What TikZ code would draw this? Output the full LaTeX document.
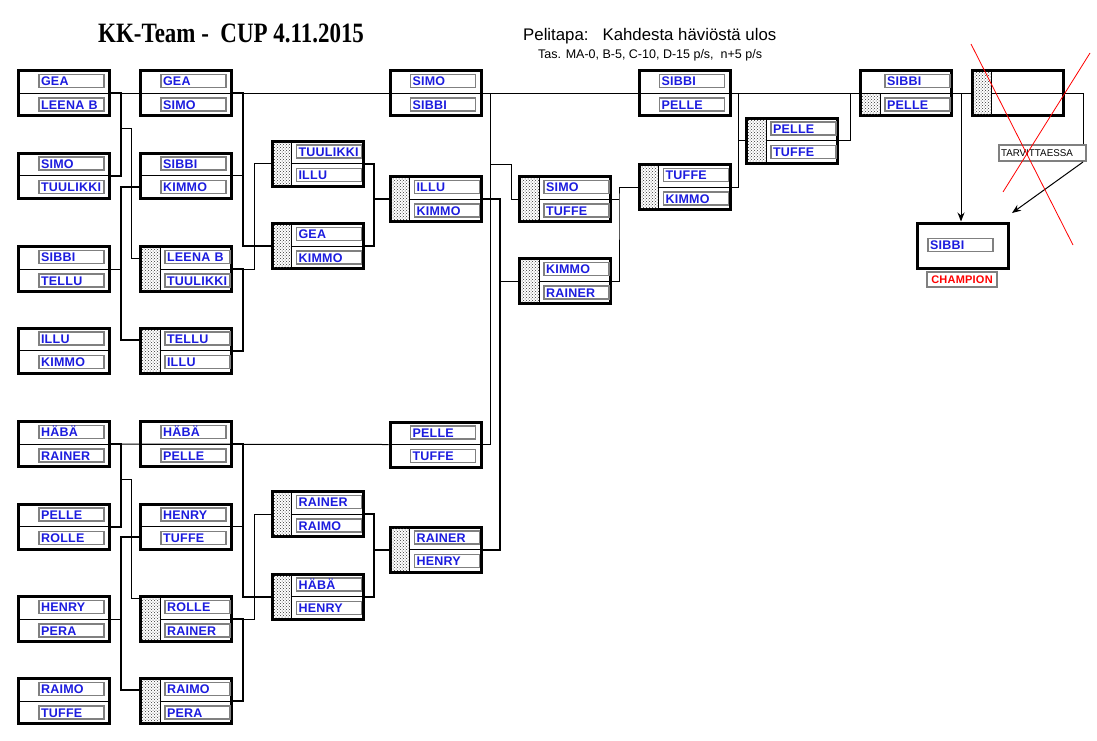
\documentclass[tikz,border=0pt]{standalone}
\usepackage{fontspec}
\setmainfont{Liberation Sans}
\newfontfamily\titlefont{Liberation Serif}
\newfontfamily\namefont{Liberation Sans}[LetterSpace=2]
\usetikzlibrary{calc,patterns,arrows.meta}
\definecolor{nameblue}{RGB}{28,28,222}
\definecolor{framegray}{RGB}{128,128,128}
\begin{document}
\begin{tikzpicture}[x=1pt,y=-1pt,>={Stealth[length=9pt,width=7pt]},line join=miter,
	match/.style={draw,line width=3pt,fill=white,minimum width=91pt,minimum height=45pt,inner sep=0pt},
	player/.style={draw=framegray,line width=1.4pt,fill=white,text width=61pt,inner xsep=2pt,inner ysep=0pt,
		minimum height=13pt,text height=9pt,text depth=0pt,align=left,text=nameblue,
		font=\namefont\bfseries\fontsize{12.5}{13}\selectfont},
	shade/.style={pattern=crosshatch dots,pattern color=black!80},
	wire/.style={line width=1pt},
	wireb/.style={line width=2pt}]
	\useasboundingbox (0,0) rectangle (1097,740);
	% otsikot
	\node[anchor=base west,inner sep=0pt,font=\titlefont\bfseries\fontsize{28}{28}\selectfont] (title) at (98,42)
	{\scalebox{0.82}[1]{KK-Team -\ \ CUP 4.11.2015}};
	\node[anchor=base west,inner sep=0pt,font=\fontsize{16.8}{17}\selectfont] (rules) at (523,40) {Pelitapa:\ \ \ Kahdesta häviöstä ulos};
	\node[anchor=base west,inner sep=0pt,font=\fontsize{12.5}{13}\selectfont] (rules2) at (538,58) {Tas. MA-0, B-5, C-10, D-15 p/s,\ \ n+5 p/s};
	% ottelut, voittajat
	\foreach \n/\x/\y/\a/\b in {A1/64/93/GEA/LEENA B, A2/64/175.5/SIMO/TUULIKKI, A3/64/269/SIBBI/TELLU,
		A4/64/350.5/ILLU/KIMMO, A5/64/444/HÄBÄ/RAINER, A6/64/526.5/PELLE/ROLLE, A7/64/619/HENRY/PERA,
		A8/64/701/RAIMO/TUFFE, B1/186/93/GEA/SIMO, B2/186/175.5/SIBBI/KIMMO, B5/186/444/HÄBÄ/PELLE,
		B6/186/526.5/HENRY/TUFFE, D1/435.5/93/SIMO/SIBBI, D3/435.5/444.5/PELLE/TUFFE, F1/684.5/93/SIBBI/PELLE}
	{
		\node[match] (\n) at (\x,\y) {};
		\draw[wire] (\n.west) -- (\n.east);
		\node[player] (\n-1) at (\x+7.5,\y-12) {\a};
		\node[player] (\n-2) at (\x+7.5,\y+11.5) {\b};
	}
	% ottelut, haviajat
	\foreach \n/\x/\y/\a/\b in {B3/186/269/LEENA B/TUULIKKI, B4/186/350.5/TELLU/ILLU, B7/186/619/ROLLE/RAINER,
		B8/186/701/RAIMO/PERA, C1/317.5/163.5/TUULIKKI/ILLU, C2/317.5/246/GEA/KIMMO, C3/317.5/514/RAINER/RAIMO,
		C4/317.5/596.5/HÄBÄ/HENRY, D2/435.5/199/ILLU/KIMMO, D4/435.5/549.5/RAINER/HENRY, E2/565/199/SIMO/TUFFE,
		E3/565/281/KIMMO/RAINER, F2/684.5/187/TUFFE/KIMMO, G2/792/140.5/PELLE/TUFFE}
	{
		\node[match] (\n) at (\x,\y) {};
		\fill[shade] (\x-44,\y-21) rectangle (\x-26,\y+21);
		\draw[wire] (\x-26,\y-21) -- (\x-26,\y+21);
		\draw[wire] (\x-26,\y) -- (\n.east);
		\node[player] (\n-1) at (\x+11.5,\y-12) {\a};
		\node[player] (\n-2) at (\x+11.5,\y+11.5) {\b};
	}
	% finaalit
	\node[match] (H1) at (906,93) {};
	\draw[wire] (H1.west) -- (H1.east);
	\fill[shade] (862,93) rectangle (880,114);
	\draw[wire] (880,93) -- (880,114);
	\node[player] (H1-1) at (917.5,81) {SIBBI};
	\node[player] (H1-2) at (917.5,104.5) {PELLE};
	\node[match] (H2) at (1017.5,93) {};
	\fill[shade] (973.5,72) rectangle (991.5,114);
	\draw[wire] (991.5,72) -- (991.5,114);
	\draw[wire] (991.5,93) -- (H2.east);
	\node[match] (CH) at (962.5,245.5) {};
	\node[player] (CH-1) at (960.5,245) {SIBBI};
	% viivat
	\coordinate (tv) at (1083,162);
	\coordinate (ta) at (1012,213);
	\coordinate (cj) at (961,93);
	\draw[wire] (A1.east) -- (H2.west);
	\draw[wire] (H2.east) -- (tv |- H2.east) -- (tv);
	\draw[wireb] (A2.east) -- ++(10,0) |- (A1.east);
	\draw[wire] ($(A1.east)+(10,35)$) -- ++(10,0) |- ($(B3.west)+(0,-11)$);
	\draw[wire] (A3.east) -- ++(10,0);
	\draw[wireb] ($(B2.west)+(0,11.5)$) -- ++(-18,0) |- ($(B4.west)+(0,-10.5)$);
	\draw[wireb] (B1.east) -- ++(10,0) |- (C2.west);
	\draw[wire] (B2.east) -- ++(10,0);
	\draw[wire] (B3.east) -- ++(21,0) |- (C1.west);
	\draw[wireb] (B4.east) -- ++(10,0) |- (B3.east);
	\draw[wireb] (C1.east) -- ++(9,0) |- (C2.east);
	\draw[wireb] ($(C1.east)+(9,35.5)$) -- (D2.west);
	\draw[wire] (D1.east) -- ++(8,0) |- (D3.east);
	\draw[wire] ($(D1.east)+(8,71)$) -- ++(21,0) |- (E2.west);
	\draw[wireb] (D2.east) -- ++(17,0) |- (D4.east);
	\draw[wire] ($(D2.east)+(17,82)$) -- (E3.west);
	\draw[wire] (E2.east) -- ++(7,0);
	\draw[wire] (F2.west) -| ($(E2.east)+(7,0)$) |- (E3.east);
	\draw[wire] (F2.east) -- ++(7,0) |- (F1.east);
	\draw[wire] ($(F1.east)+(7,47.5)$) -- (G2.west);
	\draw[wire] (G2.east) -- ++(11,0) |- (H1.west);
	\draw[wire] (A5.east) -- (D3.west);
	\draw[wireb] (A6.east) -- ++(10,0) |- (A5.east);
	\draw[wire] ($(A5.east)+(10,35)$) -- ++(10,0) |- ($(B7.west)+(0,-21)$);
	\draw[wire] (A7.east) -- ++(10,0);
	\draw[wireb] ($(B6.west)+(0,10.5)$) -- ++(-18,0) |- ($(B8.west)+(0,-11)$);
	\draw[wireb] (B5.east) -- ++(10,0) |- (C4.west);
	\draw[wire] (B6.east) -- ++(10,0);
	\draw[wire] (B7.east) -- ++(21,0) |- (C3.west);
	\draw[wireb] (B8.east) -- ++(10,0) |- (B7.east);
	\draw[wireb] (C3.east) -- ++(9,0) |- (C4.east);
	\draw[wireb] ($(C3.east)+(9,35.5)$) -- (D4.west);
	% tarvittaessa ja mestari
	\node[draw=framegray,line width=1.2pt,fill=white,text width=83pt,inner xsep=2pt,inner ysep=0pt,minimum height=16pt,
		align=left,font=\fontsize{9.8}{10}\selectfont] (tarv) at (1042.5,153) {TARVITTAESSA};
	\node[draw=framegray,line width=1.2pt,minimum width=70pt,minimum height=15pt,inner sep=0pt,text=red,
		font=\namefont\bfseries\fontsize{11}{11}\selectfont] (champ) at (962,279.5) {CHAMPION};
	\draw[wire,->] (cj) -- (cj |- CH.north);
	\draw[wire,->] (tv) -- (ta);
	% rasti
	\draw[red,line width=0.8pt] (971,44) -- (1073,245);
	\draw[red,line width=0.8pt] (1090,53) -- (1003,192);
\end{tikzpicture}
\end{document}
